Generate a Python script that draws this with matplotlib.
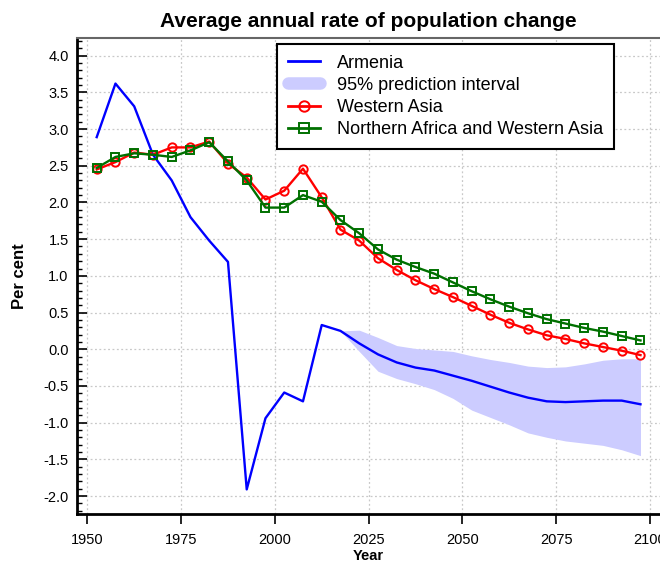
import matplotlib
matplotlib.use("Agg")
import matplotlib.pyplot as plt
from matplotlib.lines import Line2D
from matplotlib.ticker import MultipleLocator

plt.rcParams['font.family'] = ['Liberation Sans', 'DejaVu Sans']
plt.rcParams['axes.unicode_minus'] = False

# mid-points of the five-year periods 1950-1955 ... 2095-2100
years = [1952.5 + 5 * i for i in range(30)]

armenia = [2.89, 3.62, 3.31, 2.65, 2.30, 1.80, 1.48, 1.19, -1.91, -0.94,
           -0.59, -0.71, 0.33, 0.25, 0.08, -0.07, -0.18, -0.25, -0.29, -0.36,
           -0.43, -0.51, -0.59, -0.66, -0.71, -0.72, -0.71, -0.70, -0.70, -0.75]

pi_years = years[13:]
pi_upper = [0.25, 0.26, 0.16, 0.05, 0.01, -0.01, -0.03, -0.09, -0.14,
            -0.18, -0.23, -0.25, -0.24, -0.20, -0.15, -0.13, -0.13]
pi_lower = [0.25, -0.03, -0.30, -0.40, -0.47, -0.55, -0.67, -0.83, -0.93,
            -1.03, -1.14, -1.20, -1.25, -1.28, -1.31, -1.37, -1.45]

western_asia = [2.45, 2.55, 2.68, 2.65, 2.75, 2.75, 2.83, 2.53, 2.34, 2.04,
                2.16, 2.46, 2.07, 1.63, 1.48, 1.24, 1.08, 0.94, 0.82, 0.71,
                0.59, 0.47, 0.36, 0.27, 0.19, 0.14, 0.08, 0.03, -0.02, -0.08]

nafr_wasia = [2.47, 2.62, 2.67, 2.65, 2.62, 2.71, 2.82, 2.56, 2.30, 1.93,
              1.93, 2.10, 2.01, 1.76, 1.58, 1.36, 1.22, 1.12, 1.03, 0.91,
              0.79, 0.68, 0.58, 0.49, 0.41, 0.35, 0.29, 0.24, 0.18, 0.12]

BLUE = '#0000ff'
BAND = '#ccccff'
RED = '#ff0000'
GREEN = '#007000'

fig = plt.figure(figsize=(6.6, 5.61), dpi=100)
ax = fig.add_axes([0.1167, 0.0838, 0.8833, 0.849])

ax.fill_between(pi_years, pi_lower, pi_upper, color=BAND, lw=0)
ax.plot(years, armenia, color=BLUE, lw=1.7)
ax.plot(years, western_asia, color=RED, lw=1.7, marker='o', ms=6,
        mfc='none', mec=RED, mew=1.4)
ax.plot(years, nafr_wasia, color=GREEN, lw=1.7, marker='s', ms=6,
        mfc='none', mec=GREEN, mew=1.4)

ax.set_xlim(1947.25, 2102.7)
ax.set_ylim(-2.245, 4.245)
ax.xaxis.set_major_locator(MultipleLocator(25))
ax.yaxis.set_major_locator(MultipleLocator(0.5))
ax.yaxis.set_minor_locator(MultipleLocator(0.1))
ax.yaxis.set_major_formatter(matplotlib.ticker.FormatStrFormatter('%.1f'))

ax.grid(True, which='major', color='#c8c8c8', linestyle=(0, (1.5, 2)), lw=0.9)
ax.set_axisbelow(True)

ax.tick_params(axis='y', which='major', direction='in', length=7, width=1.2,
               labelsize=10.5, pad=6)
ax.tick_params(axis='y', which='minor', direction='in', length=3.5, width=1)
ax.tick_params(axis='x', which='major', direction='out', length=7, width=1.2,
               labelsize=10.5, pad=7)

ax.spines['left'].set_linewidth(2)
ax.spines['bottom'].set_linewidth(2)
ax.spines['top'].set_linewidth(1.5)
ax.spines['top'].set_color('#666666')
ax.spines['right'].set_visible(False)

ax.set_title('Average annual rate of population change', fontsize=15,
             fontweight='bold', pad=8)
ax.set_ylabel('Per cent', fontsize=12, fontweight='bold', labelpad=12)
ax.set_xlabel('Year', fontsize=10.5, fontweight='bold', labelpad=1)

handles = [
    Line2D([], [], color=BLUE, lw=2),
    Line2D([], [], color=BAND, lw=9, solid_capstyle='round'),
    Line2D([], [], color=RED, lw=2, marker='o', ms=7.5, mfc='none', mew=1.4),
    Line2D([], [], color=GREEN, lw=2, marker='s', ms=7.5, mfc='none', mew=1.4),
]
labels = ['Armenia', '95% prediction interval', 'Western Asia',
          'Northern Africa and Western Asia']
leg = ax.legend(handles, labels, loc='upper left',
                bbox_to_anchor=(0.343, 0.987), fontsize=13, fancybox=False,
                framealpha=1, edgecolor='black', labelspacing=0.28,
                handlelength=1.8, handletextpad=0.9, borderpad=0.6,
                borderaxespad=0)
leg.get_frame().set_linewidth(1.5)

fig.savefig('out.png', dpi=100)
